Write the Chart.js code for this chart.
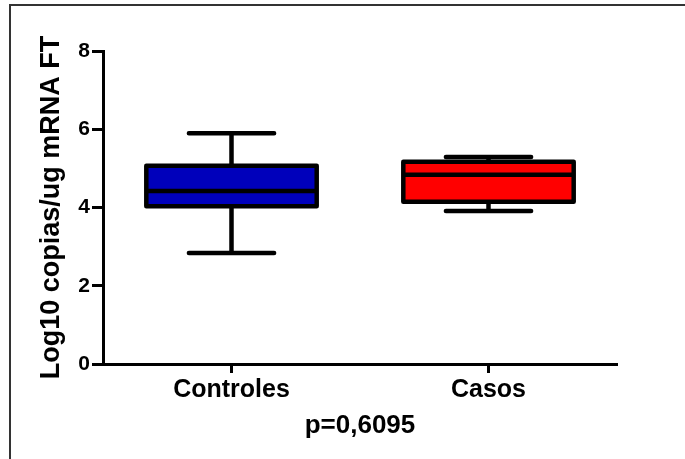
<!DOCTYPE html>
<html>
<head>
<meta charset="utf-8">
<script src="https://cdn.jsdelivr.net/npm/chart.js@4/dist/chart.umd.min.js"></script>
<style>
  html, body { margin: 0; padding: 0; background: #fff; }
  canvas { display: block; }
</style>
</head>
<body>
<canvas id="boxplot" width="685" height="459"></canvas>
<script>
const grupos = ['Controles', 'Casos'];
const minimos = [2.84, 3.91];
const q1 = [4.03, 4.15];
const medianas = [4.42, 4.84];
const q3 = [5.07, 5.17];
const maximos = [5.90, 5.29];
const colores = ['#0000BB', '#FF0000'];
const yTicks = [0, 2, 4, 6, 8];
const pValor = 'p=0,6095';

const FONT = "'Liberation Sans', Arial, sans-serif";
const LW = 4.5;

// page frame (top and left rule)
const frame = {
  id: 'frame',
  beforeDraw(chart) {
    const ctx = chart.ctx;
    ctx.save();
    ctx.fillStyle = '#fff';
    ctx.fillRect(0, 0, chart.width, chart.height);
    ctx.strokeStyle = '#333';
    ctx.lineWidth = 2;
    ctx.beginPath();
    ctx.moveTo(10, chart.height);
    ctx.lineTo(10, 5);
    ctx.lineTo(chart.width, 5);
    ctx.stroke();
    ctx.restore();
  }
};

// whiskers, caps, box outline and median drawn on top of the floating bars
const whiskers = {
  id: 'whiskers',
  afterDatasetsDraw(chart) {
    const ctx = chart.ctx;
    const y = chart.scales.y;
    const meta = chart.getDatasetMeta(0);
    ctx.save();
    ctx.strokeStyle = '#000';
    ctx.lineWidth = LW;
    meta.data.forEach((bar, i) => {
      const cx = bar.x;
      const half = bar.width / 2;
      const capHalf = bar.width / 4;
      const yMin = y.getPixelForValue(minimos[i]);
      const yQ1 = y.getPixelForValue(q1[i]);
      const yMed = y.getPixelForValue(medianas[i]);
      const yQ3 = y.getPixelForValue(q3[i]);
      const yMax = y.getPixelForValue(maximos[i]);

      ctx.lineCap = 'butt';
      ctx.beginPath();
      ctx.moveTo(cx, yQ3); ctx.lineTo(cx, yMax);
      ctx.moveTo(cx, yQ1); ctx.lineTo(cx, yMin);
      ctx.stroke();

      ctx.lineCap = 'round';
      ctx.beginPath();
      ctx.moveTo(cx - capHalf, yMax); ctx.lineTo(cx + capHalf, yMax);
      ctx.moveTo(cx - capHalf, yMin); ctx.lineTo(cx + capHalf, yMin);
      ctx.stroke();

      ctx.lineJoin = 'round';
      ctx.strokeRect(cx - half, yQ3, bar.width, yQ1 - yQ3);

      ctx.lineCap = 'butt';
      ctx.beginPath();
      ctx.moveTo(cx - half, yMed); ctx.lineTo(cx + half, yMed);
      ctx.stroke();
    });
    ctx.restore();
  }
};

new Chart(document.getElementById('boxplot').getContext('2d'), {
  type: 'bar',
  data: {
    labels: grupos,
    datasets: [{
      label: 'IQR',
      data: grupos.map((g, i) => [q1[i], q3[i]]),
      backgroundColor: colores,
      borderWidth: 0,
      categoryPercentage: 1,
      barPercentage: 0.663
    }]
  },
  options: {
    responsive: false,
    animation: false,
    layout: { padding: { top: 51, right: 68, left: 0, bottom: 0 } },
    plugins: { legend: { display: false }, tooltip: { enabled: false } },
    scales: {
      x: {
        offset: true,
        afterFit: s => { s.height = 95; },
        border: { color: '#000', width: 3 },
        grid: { drawOnChartArea: false, offset: false, tickLength: 9, tickWidth: 3, tickColor: '#000' },
        ticks: { color: '#000', padding: 2, font: { family: FONT, size: 25, weight: 'bold' } },
        title: {
          display: true,
          text: pValor,
          color: '#000',
          padding: { top: 0, bottom: 18 },
          font: { family: FONT, size: 26, weight: 'bold' }
        }
      },
      y: {
        min: 0,
        max: 8,
        afterFit: s => { s.width = 103; },
        afterBuildTicks: s => { s.ticks = yTicks.map(v => ({ value: v })); },
        border: { color: '#000', width: 3 },
        grid: { drawOnChartArea: false, tickLength: 11, tickWidth: 3, tickColor: '#000' },
        ticks: { color: '#000', padding: 2, font: { family: FONT, size: 21, weight: 'bold' } },
        title: {
          display: true,
          text: 'Log10 copias/ug mRNA FT',
          color: '#000',
          padding: { top: 35, bottom: 0 },
          font: { family: FONT, size: 27, weight: 'bold' }
        }
      }
    }
  },
  plugins: [frame, whiskers]
});
</script>
</body>
</html>
